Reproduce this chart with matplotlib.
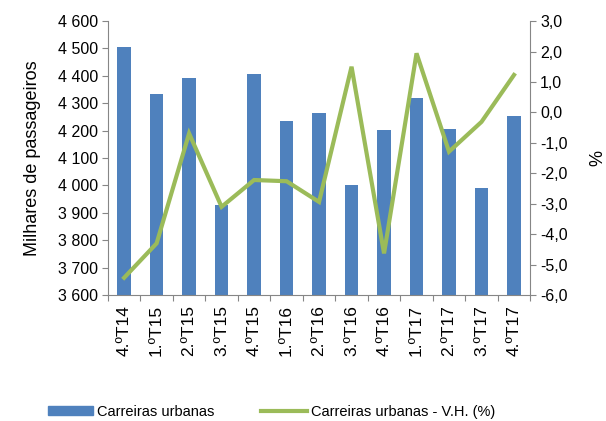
import matplotlib
matplotlib.use('Agg')

import matplotlib.pyplot as plt
import matplotlib.patches as mpatches
from matplotlib.lines import Line2D
from matplotlib.ticker import FuncFormatter, MultipleLocator

# ── 데이터 ───────────────────────────────────────────────────────────────────
TRIMESTRES = ['4.ºT14', '1.ºT15', '2.ºT15', '3.ºT15', '4.ºT15', '1.ºT16', '2.ºT16',
              '3.ºT16', '4.ºT16', '1.ºT17', '2.ºT17', '3.ºT17', '4.ºT17']
PASSAGEIROS = [4505, 4334, 4393, 3930, 4407, 4236, 4264,
               4003, 4201, 4319, 4206, 3991, 4252]
VAR_HOMOLOGA = [-5.43, -4.30, -0.69, -3.10, -2.22, -2.26, -2.94,
                1.50, -4.63, 1.94, -1.29, -0.31, 1.23]

BAR_COLOR = '#4F81BD'
LINE_COLOR = '#9BBB59'
AXIS_COLOR = '#868686'

plt.rcParams['font.family'] = ['Liberation Sans', 'DejaVu Sans']
plt.rcParams['font.size'] = 11.5

fig = plt.figure(figsize=(6.06, 4.21), dpi=100)
ax = fig.add_axes([0.178, 0.299, 0.697, 0.651])
ax2 = ax.twinx()

x = list(range(len(TRIMESTRES)))
ax.bar(x, PASSAGEIROS, width=0.41, color=BAR_COLOR, zorder=2)
ax2.plot(x, VAR_HOMOLOGA, color=LINE_COLOR, linewidth=3.0,
         solid_joinstyle='miter', zorder=3)

ax.set_xlim(-0.5, len(TRIMESTRES) - 0.5)
ax.set_ylim(3600, 4600)
ax.yaxis.set_major_locator(MultipleLocator(100))
ax.yaxis.set_major_formatter(FuncFormatter(lambda v, _: f'{int(v):,}'.replace(',', ' ')))
ax2.set_ylim(-6, 3)
ax2.yaxis.set_major_locator(MultipleLocator(1))
ax2.yaxis.set_major_formatter(FuncFormatter(lambda v, _: f'{v:.1f}'.replace('.', ',')))

# x: 카테고리 경계에 눈금, 중앙에 라벨
ax.set_xticks([i - 0.5 for i in range(len(TRIMESTRES) + 1)])
ax.set_xticklabels([])
ax.set_xticks(x, minor=True)
ax.set_xticklabels(TRIMESTRES, minor=True, rotation=90, fontsize=12.5)
ax.tick_params(axis='x', which='minor', length=0, pad=7)
ax.tick_params(axis='x', which='major', length=4, color=AXIS_COLOR)
ax.tick_params(axis='y', length=4, color=AXIS_COLOR, pad=3)
ax2.tick_params(axis='y', length=4, color=AXIS_COLOR, pad=3)

for a in (ax, ax2):
    a.spines['top'].set_visible(False)
    for s in ('left', 'right', 'bottom'):
        a.spines[s].set_color(AXIS_COLOR)
ax.spines['right'].set_visible(False)
ax2.spines['left'].set_visible(False)
ax2.spines['bottom'].set_visible(False)

ax.set_ylabel('Milhares de passageiros', fontsize=13, labelpad=12)
ax2.set_ylabel('%', fontsize=13, labelpad=16)

handles = [
    mpatches.Patch(color=BAR_COLOR, label='Carreiras urbanas'),
    Line2D([0], [0], color=LINE_COLOR, linewidth=3.0, label='Carreiras urbanas - V.H. (%)'),
]
fig.legend(handles=handles, loc='center', bbox_to_anchor=(0.448, 0.022), ncol=2,
           frameon=False, handlelength=3.1, handleheight=0.5, handletextpad=0.3,
           columnspacing=3.2, fontsize=10.5)

fig.savefig('out.png', dpi=100)
plt.close(fig)
